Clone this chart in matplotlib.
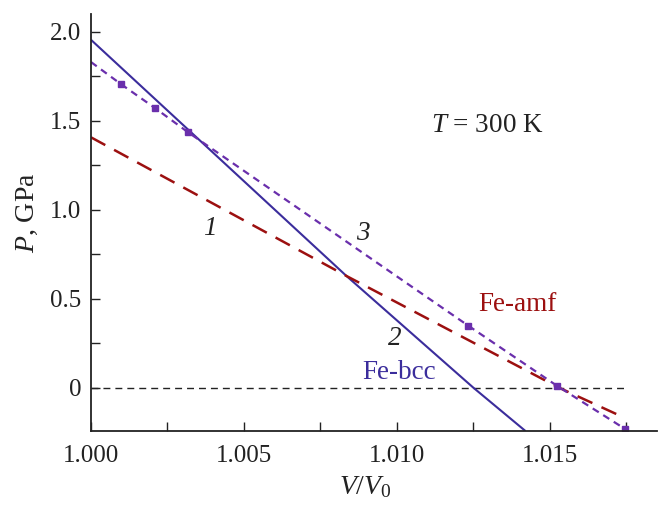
import matplotlib
matplotlib.use("Agg")
import matplotlib.pyplot as plt

# Data
bcc_x = [1.000, 1.00835, 1.0125, 1.01420]
bcc_y = [1.955, 0.628, 0.0, -0.243]

amf_x = [1.000, 1.00835, 1.0153, 1.0172]
amf_y = [1.407, 0.628, 0.0, -0.150]

md_x = [1.000, 1.000979, 1.002089, 1.003176, 1.012337, 1.015242, 1.017461]
md_y = [1.830, 1.706, 1.572, 1.435, 0.348, 0.0096, -0.232]
mk_x = md_x[1:]
mk_y = md_y[1:]

xticks = [1.000, 1.005, 1.010, 1.015]
xticklabels = ["1.000", "1.005", "1.010", "1.015"]
yticks = [0.0, 0.5, 1.0, 1.5, 2.0]
yticklabels = ["0", "0.5", "1.0", "1.5", "2.0"]

plt.rcParams['font.family'] = ['Liberation Serif', 'DejaVu Serif']
plt.rcParams['mathtext.fontset'] = 'custom'
plt.rcParams['mathtext.rm'] = 'Liberation Serif'
plt.rcParams['mathtext.it'] = 'Liberation Serif:italic'

c_bcc = '#3b2d9c'
c_amf = '#9c1010'
c_md = '#6a2fac'
c_txt = '#222222'

fig = plt.figure(figsize=(6.61, 5.05), dpi=100)
ax = fig.add_axes([91/661, 1-431/505, (657-91)/661, (431-14)/505])

ax.plot([1.000, 1.01753], [0, 0], color=c_txt, lw=1.0, dashes=(5, 3.6))
ax.plot(bcc_x, bcc_y, color=c_bcc, lw=1.5, solid_capstyle='butt')
l1, = ax.plot(amf_x, amf_y, color=c_amf, lw=1.8)
l1.set_dashes((6.5, 4))
l3, = ax.plot(md_x, md_y, color=c_md, lw=1.6)
l3.set_dashes((3.2, 2.4))
ax.plot(mk_x, mk_y, ls='none', marker='s', ms=4, color=c_md)

ax.set_xlim(1.000, 1.0185)
ax.set_ylim(-0.243, 2.1)

ax.set_xticks(xticks)
ax.set_xticklabels(xticklabels)
ax.set_yticks(yticks)
ax.set_yticklabels(yticklabels)
ax.set_xticks([1.0025, 1.0075, 1.0125, 1.0175], minor=True)
ax.set_yticks([0.25, 0.75, 1.25, 1.75], minor=True)
ax.tick_params(which='both', direction='in', length=6.5, width=1.0,
               labelsize=18, colors=c_txt)
ax.tick_params(axis='x', which='both', pad=10)
ax.tick_params(axis='y', which='both', pad=7)
for s in ['top', 'right']:
    ax.spines[s].set_visible(False)
for s in ['left', 'bottom']:
    ax.spines[s].set_linewidth(1.3)
    ax.spines[s].set_color(c_txt)

ax.set_xlabel(r'$V/V_0$', fontsize=20, color=c_txt)
ax.xaxis.set_label_coords((365-91)/566, -(474-431)/417)
ax.set_ylabel(r'$P$, GPa', fontsize=20, color=c_txt)
ax.yaxis.set_label_coords(-(91-40)/566, (431-213)/417)

fs = 19.5
ax.text(1.01294, 1.476, r'$T$ = 300 K', fontsize=fs, ha='center', va='center', color=c_txt)
ax.text(1.01394, 0.465, 'Fe-amf', fontsize=fs, ha='center', va='center', color=c_amf)
ax.text(1.01008, 0.083, 'Fe-bcc', fontsize=fs, ha='center', va='center', color=c_bcc)
ax.text(1.00388, 0.897, '1', fontsize=fs, style='italic', ha='center', va='center', color=c_txt)
ax.text(1.00992, 0.279, '2', fontsize=fs, style='italic', ha='center', va='center', color=c_txt)
ax.text(1.00888, 0.869, '3', fontsize=fs, style='italic', ha='center', va='center', color=c_txt)

fig.savefig('out.png', dpi=100)
